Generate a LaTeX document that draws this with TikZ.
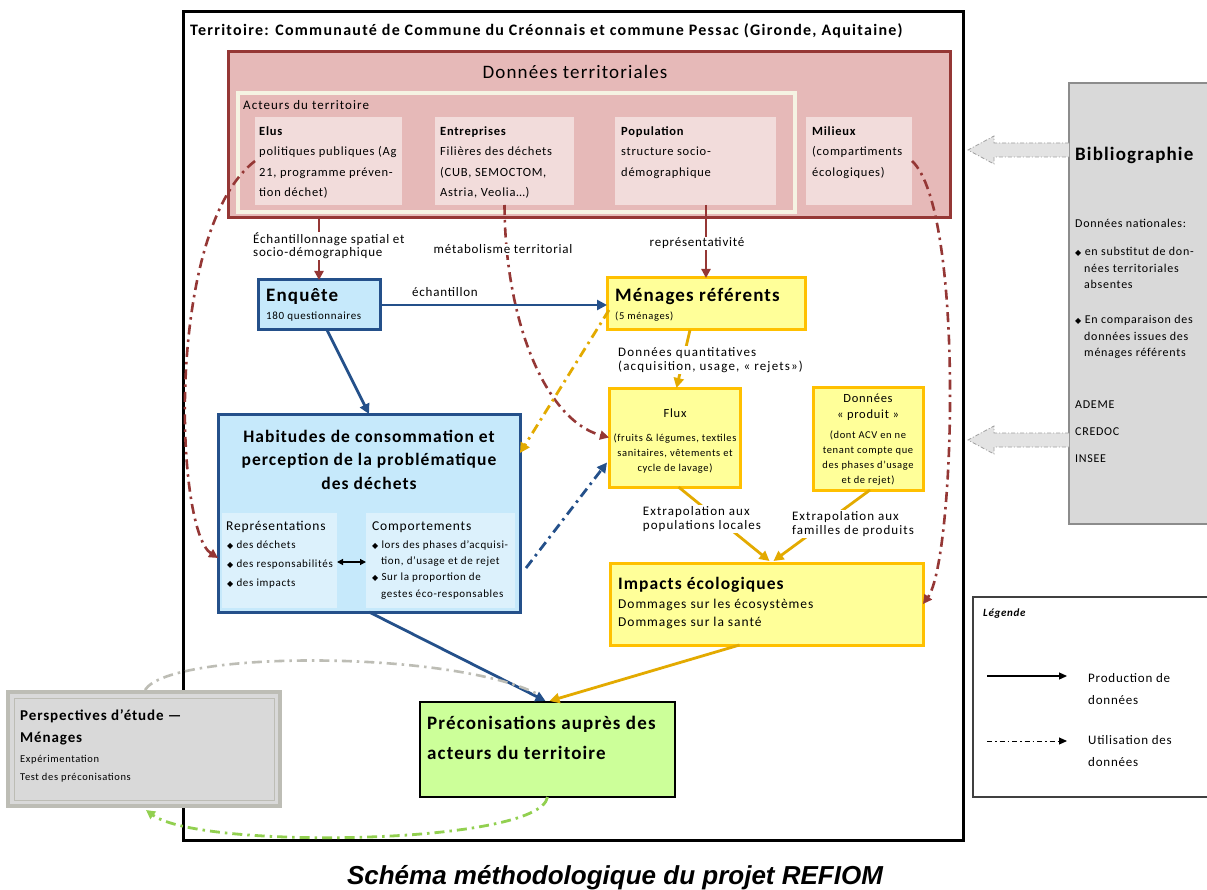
\documentclass[tikz,border=0pt]{standalone}
\usepackage{fontspec}
\setmainfont{Carlito}[LetterSpace=6]
\newfontfamily\capfont{Liberation Sans}
\newfontfamily\symfont{DejaVu Sans}
\usetikzlibrary{arrows.meta,calc}
\definecolor{dred}{HTML}{953735}
\definecolor{pinkf}{HTML}{E6B9B8}
\definecolor{pinkl}{HTML}{F2DCDB}
\definecolor{cream}{HTML}{F5F3E3}
\definecolor{bluef}{HTML}{C6E9FB}
\definecolor{bluel}{HTML}{DCF1FC}
\definecolor{dblue}{HTML}{24508A}
\definecolor{gold}{HTML}{E3AA00}
\definecolor{goldb}{HTML}{FFC000}
\definecolor{yelf}{HTML}{FFFF99}
\definecolor{greenf}{HTML}{CCFF99}
\definecolor{greend}{HTML}{92D050}
\definecolor{greyf}{HTML}{D9D9D9}
\definecolor{greyb}{HTML}{8C8C8C}
\definecolor{greyc}{HTML}{BDBDB5}
\newcommand{\fsz}[2]{\fontsize{#1}{#2}\selectfont}
\newcommand{\wide}[1]{\addfontfeature{LetterSpace=#1}}
\newcommand{\bul}{{\symfont\fontsize{8}{8}\selectfont ◆}}
\tikzset{
  box/.style={anchor=north west, inner sep=0pt, outer sep=0pt},
  lbl/.style={inner sep=0pt, align=left},
  clbl/.style={inner sep=0pt, align=center},
  wlbl/.style={inner sep=1pt, align=left, fill=white},
  tipbig/.style={-{Triangle[length=10pt,width=10pt]}},
  tipmid/.style={-{Triangle[length=9pt,width=9pt]}},
  dd/.style={dash pattern=on 10pt off 5pt on 2.5pt off 5pt},
  redsolid/.style={draw=dred, line width=2.6pt, tipmid},
  reddd/.style={draw=dred, line width=2.6pt, dd, tipmid},
  bluesolid/.style={draw=dblue, line width=2.8pt, tipbig},
  bluedd/.style={draw=dblue, line width=2.8pt, dd, tipbig},
  goldsolid/.style={draw=gold, line width=2.8pt, tipbig},
  golddd/.style={draw=gold, line width=2.8pt, dd, tipbig},
  blockarrow/.style={draw=gray!75, fill=gray!22, line width=0.8pt, dash pattern=on 4pt off 2pt on 1pt off 2pt},
}
\begin{document}
\begin{tikzpicture}[x=1pt,y=-1pt]
\useasboundingbox (0,0) rectangle (1207,890);
\fill[white] (0,0) rectangle (1207,890);

% main frame
\node[box, draw=black, line width=3pt, minimum width=780pt, minimum height=828pt] (frame) at (183,12) {};
\node[lbl, anchor=base west, font=\bfseries\fsz{16}{18}\wide{8}] (ttl) at (190,36) {Territoire: Communauté de Commune du Créonnais et commune Pessac (Gironde, Aquitaine)};

% Donnees territoriales
\node[box, draw=dred, line width=3pt, fill=pinkf, minimum width=722pt, minimum height=166pt] (dt) at (228,52) {};
\node[clbl, anchor=base, font=\fsz{19}{22}] (dttl) at (575,79) {Données territoriales};
\node[box, draw=cream, line width=3.5pt, fill=pinkf, minimum width=557pt, minimum height=119pt] (act) at (238,93) {};
\node[lbl, anchor=base west, font=\fsz{13}{14}\wide{8}] (actl) at (243,110) {Acteurs du territoire};
\node[box, fill=pinkl, minimum width=147pt, minimum height=88pt] (elus) at (255,117) {};
\node[box, fill=pinkl, minimum width=139pt, minimum height=88pt] (ent) at (435,117) {};
\node[box, fill=pinkl, minimum width=161pt, minimum height=88pt] (pop) at (615,117) {};
\node[box, fill=pinkl, minimum width=106pt, minimum height=88pt] (mil) at (806,117) {};
\node[lbl, anchor=base west, font=\fsz{12.5}{20.5}] (elust) at (259,197) {\textbf{Elus}\\politiques publiques (Ag\\21, programme préven-\\tion déchet)};
\node[lbl, anchor=base west, font=\fsz{12.5}{20.5}] (entt) at (440,197) {\textbf{Entreprises}\\Filières des déchets\\(CUB, SEMOCTOM,\\Astria, Veolia…)};
\node[lbl, anchor=base west, font=\fsz{12.5}{20.5}] (popt) at (621,176.5) {\textbf{Population}\\structure socio-\\démographique};
\node[lbl, anchor=base west, font=\fsz{12.5}{20.5}] (milt) at (812,176.5) {\textbf{Milieux}\\(compartiments\\écologiques)};

% Enquete
\node[box, draw=dblue, line width=3pt, fill=bluef, minimum width=122pt, minimum height=50pt] (enq) at (258,280) {};
\node[lbl, anchor=base west, font=\bfseries\fsz{19}{20}] (enqt) at (266,302) {Enquête};
\node[lbl, anchor=base west, font=\fsz{11}{12}] (enqs) at (266,320) {180 questionnaires};

% Menages referents
\node[box, draw=goldb, line width=3pt, fill=yelf, minimum width=198pt, minimum height=52pt] (men) at (607,278) {};
\node[lbl, anchor=base west, font=\bfseries\fsz{19}{20}] (ment) at (615,302) {Ménages référents};
\node[lbl, anchor=base west, font=\fsz{10.5}{12}] (mens) at (615,320) {(5 ménages)};

% Habitudes
\node[box, draw=dblue, line width=3pt, fill=bluef, minimum width=302pt, minimum height=198pt] (hab) at (218,414) {};
\node[box, fill=bluel, minimum width=115pt, minimum height=95pt] (rep) at (222,513) {};
\node[box, fill=bluel, minimum width=149pt, minimum height=95pt] (comp) at (366,513) {};
\node[clbl, anchor=base, font=\bfseries\fsz{17.5}{23.5}] (habt) at (369,489) {Habitudes de consommation et\\perception de la problématique\\des déchets};
\node[lbl, anchor=base west, font=\fsz{13.5}{15}] (rept) at (226,530) {Représentations};
\node[lbl, anchor=base west, font=\fsz{11}{19}] (repl) at (227,586) {\bul{} des déchets\\\bul{} des responsabilités\\\bul{} des impacts};
\node[lbl, anchor=base west, font=\fsz{13.5}{15}] (compt) at (372,530) {Comportements};
\node[lbl, anchor=base west, font=\fsz{11}{16.3}] (compl) at (372,597) {\bul{} lors des phases d’acquisi-\\\hspace*{9pt}tion, d’usage et de rejet\\\bul{} Sur la proportion de\\\hspace*{9pt}gestes éco-responsables};
\draw[line width=1.2pt, {Triangle[length=6pt,width=6pt]}-{Triangle[length=6pt,width=6pt]}] (rep.east |- 0,562) -- (comp.west |- 0,562);

% Flux
\node[box, draw=goldb, line width=3pt, fill=yelf, minimum width=131pt, minimum height=99pt] (flux) at (609,388) {};
\node[clbl, anchor=base, font=\fsz{12.5}{15}] (fluxt) at (675,417) {Flux};
\node[clbl, anchor=base, font=\fsz{10.5}{15}] (fluxl) at (675,471) {(fruits \& légumes, textiles\\sanitaires, vêtements et\\cycle de lavage)};

% Donnees produit
\node[box, draw=goldb, line width=3pt, fill=yelf, minimum width=110pt, minimum height=103pt] (prod) at (813,387) {};
\node[clbl, anchor=base, font=\fsz{12.5}{16}] (prodt) at (868,418) {Données\\« produit »};
\node[clbl, anchor=base, font=\fsz{10.5}{15}] (prodl) at (868,483) {(dont ACV en  ne\\tenant compte que\\des phases d’usage\\et de rejet)};

% Impacts
\node[box, draw=goldb, line width=3pt, fill=yelf, minimum width=313pt, minimum height=82pt] (imp) at (610,563) {};
\node[lbl, anchor=base west, font=\bfseries\fsz{17.5}{20}] (impt) at (618,589) {Impacts écologiques};
\node[lbl, anchor=base west, font=\fsz{13.5}{18}\wide{7}] (impl) at (618,626) {Dommages sur les écosystèmes\\Dommages sur la santé};

% Preconisations
\node[box, draw=black, line width=2pt, fill=greenf, minimum width=255pt, minimum height=95pt] (prec) at (420,702) {};
\node[lbl, anchor=base west, font=\bfseries\fsz{19}{30}] (prect) at (427,759) {Préconisations auprès des\\acteurs du territoire};

% Perspectives
\node[box, draw=greyc, line width=4pt, fill=greyf, minimum width=272pt, minimum height=114pt] (persp) at (8,692) {};
\draw[greyc, line width=1pt] ($(persp.north west)+(6,6)$) rectangle ($(persp.south east)+(-6,-6)$);
\node[lbl, anchor=base west, font=\bfseries\fsz{15}{22}] (perspt) at (20,742) {Perspectives d’étude —\\Ménages};
\node[lbl, anchor=base west, font=\fsz{10.5}{18}] (perspl) at (20,780) {Expérimentation\\Test des préconisations};

% Bibliographie
\node[box, draw=greyb, line width=1.5pt, fill=greyf, minimum width=150pt, minimum height=441pt] (bib) at (1069,83) {};
\node[lbl, anchor=base west, font=\bfseries\fsz{19}{20}] (bibt) at (1075,161) {Bibliographie};
\node[lbl, anchor=base west, font=\fsz{12}{13}] (bibn) at (1075,228) {Données nationales:};
\node[lbl, anchor=base west, font=\fsz{12}{16.5}] (bib1) at (1075,289) {\bul{} en substitut de don-\\\hspace*{9pt}nées territoriales\\\hspace*{9pt}absentes};
\node[lbl, anchor=base west, font=\fsz{12}{16.5}] (bib2) at (1075,357) {\bul{} En comparaison des\\\hspace*{9pt}données issues des\\\hspace*{9pt}ménages référents};
\node[lbl, anchor=base west, font=\fsz{12}{27}] (bibs) at (1075,462) {ADEME\\CREDOC\\INSEE};
\path[blockarrow] (bib.west |- 0,143) -- (994,143) -- (994,136) -- (968,150) -- (994,164) -- (994,157) -- (bib.west |- 0,157);
\path[blockarrow] (bib.west |- 0,433) -- (994,433) -- (994,426) -- (968,440) -- (994,454) -- (994,447) -- (bib.west |- 0,447);

% Legende
\node[box, draw=black!75, line width=1.2pt, fill=white, minimum width=250pt, minimum height=200pt] (leg) at (973,597) {};
\node[lbl, anchor=base west, font=\bfseries\itshape\fsz{11}{12}] (legt) at (983,616) {Légende};
\coordinate (l1a) at (987,676);
\coordinate (l1b) at (1067,676);
\coordinate (l2a) at (987,741);
\coordinate (l2b) at (1067,741);
\draw[line width=1.2pt, -{Triangle[length=8pt,width=7pt]}] (l1a) -- (l1b);
\draw[line width=1pt, dash pattern=on 5pt off 3pt on 1.5pt off 3pt, -{Triangle[length=8pt,width=7pt]}] (l2a) -- (l2b);
\node[lbl, anchor=base west, font=\fsz{13}{22}] (leg1) at (1088,704) {Production de\\données};
\node[lbl, anchor=base west, font=\fsz{13}{22}] (leg2) at (1088,766) {Utilisation des\\données};

% connectors
\draw[redsolid] (enq.north |- dt.south) -- (enq.north);
\node[wlbl, anchor=base west, font=\fsz{13}{13.5}] (echl) at (252,257) {Échantillonnage spatial et\\socio-démographique};
\draw[redsolid] (men.north |- pop.south) -- (men.north);
\node[wlbl, anchor=base, font=\fsz{13}{14}] (repr) at (697,247) {représentativité};
\draw[reddd] (ent.south) .. controls (505,320) and (545,420) .. (flux.west);
\node[wlbl, anchor=base, font=\fsz{13}{14}] (meta) at (503,254) {métabolisme territorial};
\draw[reddd] (elus.west) .. controls (165,230) and (175,530) .. (hab.west |- 0,558);
\draw[reddd] (mil.east) .. controls (965,210) and (955,560) .. (imp.east);

\draw[bluesolid] (enq.east) -- (men.west |- enq.east);
\node[lbl, anchor=base west, font=\fsz{13}{14}] (echt) at (412,297) {échantillon};
\draw[bluesolid] ($(enq.south)+(8,0)$) -- (hab.north);
\draw[golddd] ($(men.west)+(2,6)$) -- ($(hab.east)+(0,-60)$);
\draw[bluedd] ($(hab.east)+(6,55)$) -- ($(flux.west)+(-2,25)$);
\draw[goldsolid] ($(men.south)+(-16,0)$) -- ($(flux.north)+(2,0)$);
\node[wlbl, anchor=base west, font=\fsz{13}{14.5}\wide{9}] (dq) at (617,370.5) {Données quantitatives\\(acquisition, usage, « rejets»)};
\draw[goldsolid] ($(flux.south)+(4,0)$) -- ($(imp.north)+(3,-2)$);
\node[wlbl, anchor=base, font=\fsz{13}{14.5}\wide{8}] (ex1) at (702,529.5) {Extrapolation aux\\populations locales};
\draw[goldsolid] ($(prod.south)+(2,0)$) -- ($(imp.north)+(7,-2)$);
\node[wlbl, anchor=base, font=\fsz{13}{14.5}\wide{8}] (ex2) at (853,534.5) {Extrapolation  aux\\familles de produits};
\draw[bluesolid] (hab.south) -- ($(prec.north)+(-2,-1)$);
\draw[goldsolid] ($(imp.south)+(-27,0)$) -- ($(prec.north)+(2,-1)$);
\draw[draw=greyc, line width=2.6pt, dd] ($(persp.north)+(1,-2)$) .. controls (170,650) and (450,650) .. ($(prec.north)+(-10,-8)$);
\draw[draw=greend, line width=2.8pt, dd, tipmid] (prec.south) .. controls (540,845) and (200,850) .. ($(persp.south)+(2,4)$);

% caption
\node[clbl, anchor=base, font=\capfont\bfseries\itshape\fsz{26}{28}] (cap) at (615,884) {Schéma méthodologique du projet REFIOM};
\end{tikzpicture}
\end{document}
